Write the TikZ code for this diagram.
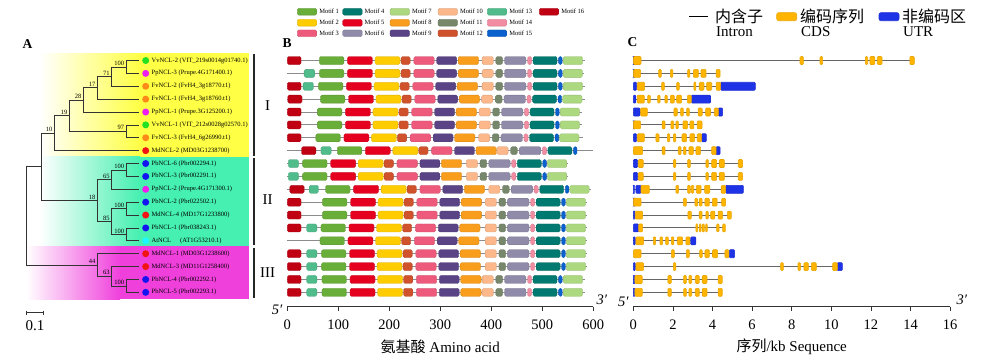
\documentclass[tikz,border=0pt]{standalone}
\usepackage{fontspec}
\setmainfont{Liberation Serif}
\newfontfamily\cjk{Noto Sans CJK SC}

% motif colours
\definecolor{m1}{HTML}{6AAE3A}
\definecolor{m2}{HTML}{FFCC00}
\definecolor{m3}{HTML}{EE5A7C}
\definecolor{m4}{HTML}{007A70}
\definecolor{m5}{HTML}{E60020}
\definecolor{m6}{HTML}{8F8BA8}
\definecolor{m7}{HTML}{ACD880}
\definecolor{m8}{HTML}{F99D1C}
\definecolor{m9}{HTML}{5B4485}
\definecolor{m10}{HTML}{FCB88A}
\definecolor{m11}{HTML}{77876B}
\definecolor{m12}{HTML}{D0522C}
\definecolor{m13}{HTML}{50BC8C}
\definecolor{m14}{HTML}{F28CA2}
\definecolor{m15}{HTML}{0A60CC}
\definecolor{m16}{HTML}{C00012}
\definecolor{cds}{HTML}{FFB400}
\definecolor{utr}{HTML}{1F33E6}
\definecolor{cladeI}{HTML}{FFFF45}
\definecolor{cladeII}{HTML}{45F0B0}
\definecolor{cladeIII}{HTML}{F040DC}
\definecolor{vv}{HTML}{22E022}
\definecolor{pp}{HTML}{EE1EEE}
\definecolor{fv}{HTML}{FF8A1A}
\definecolor{md}{HTML}{F01414}
\definecolor{pb}{HTML}{1414F0}
\definecolor{at}{HTML}{1EF8FF}

% one protein: backbone, common motifs (two shifts), extra motifs
\newcommand{\aarow}[5]{%
  \draw[bbone] (0,#1) -- (#4,#1);
  \foreach \m/\s/\e in {1/63/111,5/118/167,2/172/221,12/223/241,3/248/288,9/293/332,8/335/375}
    \draw[mbox=m\m] ({\s+(#2)},{#1-4}) rectangle ({\e+(#2)},{#1+4});
  \foreach \m/\s/\e in {10/382/404,11/409/422,6/426/468,14/471/479,4/482/529,15/532/539}
    \draw[mbox=m\m] ({\s+(#3)},{#1-4}) rectangle ({\e+(#3)},{#1+4});
  \foreach \m/\s/\e in {#5}
    \draw[mbox=m\m] (\s,{#1-4}) rectangle (\e,{#1+4});
}
% one gene: intron line, UTR and CDS boxes (kb)
\newcommand{\generow}[4]{%
  \draw[intron] (0,#1) -- (#2,#1);
  \foreach \s/\e in {#3}
    \draw[ebox=utr] (\s,{#1-4}) rectangle (\e,{#1+4});
  \foreach \s/\e in {#4}
    \draw[ebox=cds] (\s,{#1-4}) rectangle (\e,{#1+4});
}

\begin{document}
\begin{tikzpicture}[x=1pt,y=-1pt,
    branch/.style={line width=0.8pt,black!80},
    leaf/.style={font=\fontsize{6.5}{7}\selectfont,anchor=west,inner sep=0pt},
    boot/.style={font=\fontsize{6.5}{7}\selectfont,anchor=south east,inner sep=0.3pt},
    spdot/.style={circle,minimum size=7pt,inner sep=0pt},
    mbox/.style={fill=#1,draw=#1!85!black,line width=0.3pt,rounded corners=1.5pt},
    ebox/.style={fill=#1,draw=#1!92!black,line width=0.6pt,rounded corners=1pt},
    bbone/.style={black!45,line width=0.9pt},
    intron/.style={black!60,line width=1pt},
    cladebar/.style={black!85,line width=1.5pt},
    legtxt/.style={font=\fontsize{6.5}{7}\selectfont,anchor=west,inner sep=0pt},
    bigtxt/.style={font=\fontsize{15}{15}\selectfont,inner sep=0pt},
    ticklab/.style={font=\fontsize{14.5}{15}\selectfont,inner sep=0pt},
    panel/.style={font=\fontsize{13.5}{14}\selectfont\bfseries,inner sep=0pt}]
  \useasboundingbox (0,0) rectangle (1000,359);

  % clade backgrounds
  \shade[left color=white,right color=cladeI] (40,53.3) rectangle (140,156.5);
  \fill[cladeI] (139.5,53.3) rectangle (249.3,156.5);
  \shade[left color=white,right color=cladeII] (40,156.5) rectangle (140,246.3);
  \fill[cladeII] (139.5,156.5) rectangle (249.3,246.3);
  \shade[left color=white,right color=cladeIII] (26,246.3) rectangle (120,299);
  \fill[cladeIII] (119.5,246.3) rectangle (249.3,299);

  % panel A: tree
  \node[panel] (labA) at (27.5,44) {A};
  \foreach \i/\c/\lab in {
      0/vv/{VvNCL-2 (VIT\_219s0014g01740.1)},
      1/pp/{PpNCL-3 (Prupe.4G171400.1)},
      2/fv/{FvNCL-2 (FvH4\_3g18770.t1)},
      3/fv/{FvNCL-1 (FvH4\_3g18760.t1)},
      4/pp/{PpNCL-1 (Prupe.3G125200.1)},
      5/vv/{VvNCL-1 (VIT\_212s0028g02570.1)},
      6/fv/{FvNCL-3 (FvH4\_6g26990.t1)},
      7/md/{MdNCL-2 (MD03G1238700)},
      8/pb/{PbNCL-6 (Pbr002294.1)},
      9/pb/{PbNCL-3 (Pbr002291.1)},
      10/pp/{PpNCL-2 (Prupe.4G171300.1)},
      11/pb/{PbNCL-2 (Pbr022502.1)},
      12/md/{MdNCL-4 (MD17G1233800)},
      13/pb/{PbNCL-1 (Pbr038243.1)},
      14/at/{AtNCL\hspace{9pt}(AT1G53210.1)},
      15/md/{MdNCL-1 (MD03G1238600)},
      16/md/{MdNCL-3 (MD11G1258400)},
      17/pb/{PbNCL-4 (Pbr002292.1)},
      18/pb/{PbNCL-5 (Pbr002293.1)}} {
    \coordinate (t\i) at (139.3,{60.5+12.88*\i});
    \node[spdot,fill=\c] (d\i) at (145.7,{60.5+12.88*\i}) {};
    \node[leaf] (g\i) at (151.5,{60.5+12.88*\i}) {\lab};
  }
  \coordinate (n100) at (126,66.94);
  \coordinate (n71) at (111.5,76.6);
  \coordinate (n17) at (97.3,87.87);
  \coordinate (n28) at (83.3,99.95);
  \coordinate (n97) at (126,131.34);
  \coordinate (n19) at (69.3,115.65);
  \coordinate (n10) at (54.3,133.16);
  \coordinate (n100a) at (126,169.98);
  \coordinate (n65) at (111.5,179.64);
  \coordinate (n100b) at (126,208.62);
  \coordinate (n100c) at (126,234.38);
  \coordinate (n85) at (111.5,221.5);
  \coordinate (n18) at (97.3,200.57);
  \coordinate (nI) at (41,166.87);
  \coordinate (n100d) at (126,285.9);
  \coordinate (n63) at (111.5,276.24);
  \coordinate (n44) at (97.3,264.97);
  \coordinate (root) at (26.7,215.92);
  \foreach \p/\q in {n100/t0,n100/t1,n71/n100,n71/t2,n17/n71,n17/t3,n28/n17,n28/t4,
      n97/t5,n97/t6,n19/n28,n19/n97,n10/n19,n10/t7,n100a/t8,n100a/t9,n65/n100a,n65/t10,
      n100b/t11,n100b/t12,n100c/t13,n100c/t14,n85/n100b,n85/n100c,n18/n65,n18/n85,
      nI/n10,nI/n18,n100d/t17,n100d/t18,n63/t16,n63/n100d,n44/t15,n44/n63,root/nI,root/n44}
    \draw[branch] (\p) |- (\q);
  \foreach \nd/\v in {n100/100,n71/71,n17/17,n28/28,n97/97,n19/19,n10/10,n100a/100,n65/65,
      n100b/100,n100c/100,n85/85,n18/18,n44/44,n63/63,n100d/100}
    \node[boot] (b\nd) at ([xshift=-1.5pt,yshift=0.8pt]\nd) {\v};
  \draw[cladebar] (254,54) -- (254,155.5);
  \draw[cladebar] (254,158) -- (254,245);
  \draw[cladebar] (254,248) -- (254,298);
  \node[bigtxt] (cI) at (267.5,106) {I};
  \node[bigtxt] (cII) at (267.5,200) {II};
  \node[bigtxt] (cIII) at (267.5,273) {III};
  % scale bar
  \draw[branch] (26.7,312.7) -- (43.3,312.7);
  \draw[branch] (26.7,310.5) -- (26.7,314.9);
  \draw[branch] (43.3,310.5) -- (43.3,314.9);
  \node[bigtxt] (sc) at (35,326) {0.1};

  % panel B: motifs
  \node[panel] (labB) at (287,43) {B};
  \foreach \m/\x/\yy in {1/297.3/11.7,2/297.3/22.7,3/297.3/33.3,4/342.7/11.7,5/342.7/22.7,
      6/342.7/33.3,7/390/11.7,8/390/22.7,9/390/33.3,10/438/11.7,11/438/22.7,12/438/33.3,
      13/487.3/11.7,14/487.3/22.7,15/487.3/33.3,16/539.3/11.7} {
    \draw[mbox=m\m] (\x,{\yy-3.4}) rectangle ({\x+19.5},{\yy+3.4});
    \node[legtxt] (lm\m) at ({\x+21.8},\yy) {Motif \m};
  }
  \begin{scope}[xshift=287.3pt,x=0.51pt]
    \aarow{60.5}{0}{0}{584}{16/0/27,7/541/579}
    \aarow{73.38}{0}{0}{582}{13/33/54,7/541/579}
    \aarow{86.26}{-2}{0}{584}{16/0/27,13/31/51,7/541/579}
    \aarow{99.14}{2}{-1}{584}{16/1/29,7/540/578}
    \aarow{112.02}{-4}{-6}{577}{16/0/27,7/535/573}
    \aarow{124.9}{-4}{-6}{577}{16/0/27,7/535/573}
    \aarow{137.78}{-7}{-7}{580}{16/0/27,7/534/572}
    \aarow{150.66}{35}{29}{600}{16/28/56,13/66/86}
    \aarow{163.54}{-33}{-31}{551}{13/2/22,7/510/548}
    \aarow{176.42}{-33}{-31}{551}{13/2/22,7/510/548}
    \aarow{189.3}{12}{13}{595}{16/5/33,13/43/61,7/554/592}
    \aarow{202.18}{6}{6}{587}{16/0/27,7/547/585}
    \aarow{215.06}{6}{6}{587}{16/0/27,7/547/585}
    \aarow{227.94}{3}{6}{587}{16/0/27,13/38/58,7/547/585}
    \aarow{240.82}{1}{6}{587}{7/547/585}
    \aarow{253.7}{4}{6}{587}{16/0/27,13/38/58,7/547/585}
    \aarow{266.58}{4}{6}{587}{16/0/27,13/38/58,7/547/585}
    \aarow{279.46}{5}{0}{584}{16/0/27,13/38/58,7/541/579}
    \aarow{292.34}{5}{0}{584}{16/0/27,13/38/58,7/541/579}
    \draw[black!80,line width=0.8pt] (0,306.7) -- (600,306.7);
    \foreach \t in {0,100,...,600} {
      \draw[black!80,line width=0.8pt] (\t,306.7) -- (\t,310.7);
      \node[ticklab] (ba\t) at (\t,325) {\t};
    }
    \node[ticklab] (b5) at (-20,310) {\textit{5′}};
    \node[ticklab] (b3) at (617,300) {\textit{3′}};
    \node[bigtxt] (xtB) at (300,347) {{\cjk 氨基酸} Amino acid};
  \end{scope}

  % panel C: gene structures
  \node[panel] (labC) at (632.5,42.5) {C};
  \draw[black,line width=1.5pt] (689,16.7) -- (708,16.7);
  \node[bigtxt,anchor=west] (kI) at (715,16) {\cjk\fontsize{16}{16}\selectfont 内含子};
  \node[bigtxt,anchor=west] (eI) at (716,32) {Intron};
  \draw[ebox=cds,rounded corners=2pt] (776.7,12.7) rectangle (796.7,20.7);
  \node[bigtxt,anchor=west] (kC) at (800,16) {\cjk\fontsize{16}{16}\selectfont 编码序列};
  \node[bigtxt,anchor=west] (eC) at (801,32) {CDS};
  \draw[ebox=utr,rounded corners=2pt] (879,12.7) rectangle (899,20.7);
  \node[bigtxt,anchor=west] (kU) at (902,16) {\cjk\fontsize{16}{16}\selectfont 非编码区};
  \node[bigtxt,anchor=west] (eU) at (903,32) {UTR};
  \begin{scope}[xshift=633.3pt,x=19.8pt]
    \generow{60.5}{14.19}{0/0.05}{0/0.39,8.42/8.59,9.43/9.56,11.72/11.84,11.95/12.2,12.32/12.56,13.97/14.19}
    \generow{73.38}{4.38}{0/0.05}{0/0.37,1.28/1.41,1.87/2.0,2.74/2.86,3.03/3.28,3.42/3.67,4.18/4.38}
    \generow{86.26}{6.16}{0/0.17,4.41/6.16}{0.2/0.57,1.43/1.57,2.19/2.32,3.06/3.16,3.33/3.57,3.7/3.96,4.18/4.41}
    \generow{99.14}{3.9}{0/0.13,2.93/3.9}{0.2/0.56,0.72/0.86,1.23/1.35,1.6/1.72,1.87/2.07,2.19/2.44,2.73/2.93}
    \generow{112.02}{4.51}{0/0.34,4.29/4.51}{0.37/0.71,2.05/2.22,2.39/2.53,2.69/2.83,3.27/3.48,3.65/3.9,4.09/4.29}
    \generow{124.9}{3.47}{0/0.05}{0/0.37,1.46/1.6,1.9/2.04,2.15/2.27,2.51/2.74,2.86/3.06,3.23/3.47}
    \generow{137.78}{3.69}{0/0.17,3.45/3.69}{0.2/0.56,1.14/1.3,1.72/1.85,2.02/2.15,2.46/2.69,2.86/3.1,3.23/3.45}
    \generow{150.66}{4.38}{4.18/4.38}{0/0.47,1.46/1.6,2.27/2.41,2.53/2.66,2.81/3.03,3.16/3.4,3.96/4.18}
    \generow{163.54}{5.52}{0/0.22}{0.25/0.5,2.02/2.15,2.74/2.88,3.67/3.79,3.96/4.21,4.34/4.6,5.3/5.52}
    \generow{176.42}{5.52}{0/0.22}{0.25/0.5,2.02/2.15,2.74/2.88,3.67/3.79,3.96/4.21,4.34/4.6,5.3/5.52}
    \generow{189.3}{5.56}{0/0.05,0.13/0.39,4.66/5.56}{0.39/0.81,2.15/2.29,2.74/2.88,2.93/3.05,3.18/3.42,3.6/3.87,4.44/4.66}
    \generow{202.18}{4.66}{0/0.05}{0/0.39,2.53/2.68,3.11/3.25,3.33/3.47,3.62/3.84,3.99/4.23,4.46/4.66}
    \generow{215.06}{4.95}{0/0.08}{0.1/0.47,2.76/2.93,3.33/3.47,3.67/3.79,3.91/4.12,4.28/4.51,4.75/4.95}
    \generow{227.94}{4.65}{0/0.27}{0.27/0.47,3.16/3.25,3.33/3.42,3.48/3.59,3.65/3.74,4.21/4.33,4.51/4.65}
    \generow{240.82}{3.16}{0/0.1,2.9/3.16}{0.13/0.52,1.01/1.13,1.35/1.48,1.63/1.77,1.92/2.05,2.22/2.49,2.66/2.86}
    \generow{253.7}{5.12}{4.85/5.12}{0/0.39,1.92/2.07,2.68/2.83,3.35/3.48,3.62/3.84,4.0/4.26,4.63/4.83}
    \generow{266.58}{10.56}{0/0.1,10.3/10.56}{0.13/0.52,2.02/2.15,7.44/7.58,8.32/8.45,8.62/8.84,8.99/9.24,10.07/10.3}
    \generow{279.46}{4.49}{0/0.07}{0.08/0.45,1.75/1.92,2.54/2.68,2.81/2.95,3.13/3.33,3.48/3.72,4.28/4.49}
    \generow{292.34}{4.49}{0/0.07}{0.08/0.45,1.75/1.92,2.54/2.68,2.81/2.95,3.13/3.33,3.48/3.72,4.28/4.49}
    \draw[black!80,line width=0.8pt] (0,306.7) -- (16,306.7);
    \foreach \t in {0,2,...,16} {
      \draw[black!80,line width=0.8pt] (\t,306.7) -- (\t,310.7);
      \node[ticklab] (ca\t) at (\t,325) {\t};
    }
    \node[ticklab] (c5) at (-0.5,302) {\textit{5′}};
    \node[ticklab] (c3) at (16.6,300) {\textit{3′}};
    \node[bigtxt] (xtC) at (8,347) {{\cjk 序列}/kb Sequence};
  \end{scope}
\end{tikzpicture}
\end{document}
